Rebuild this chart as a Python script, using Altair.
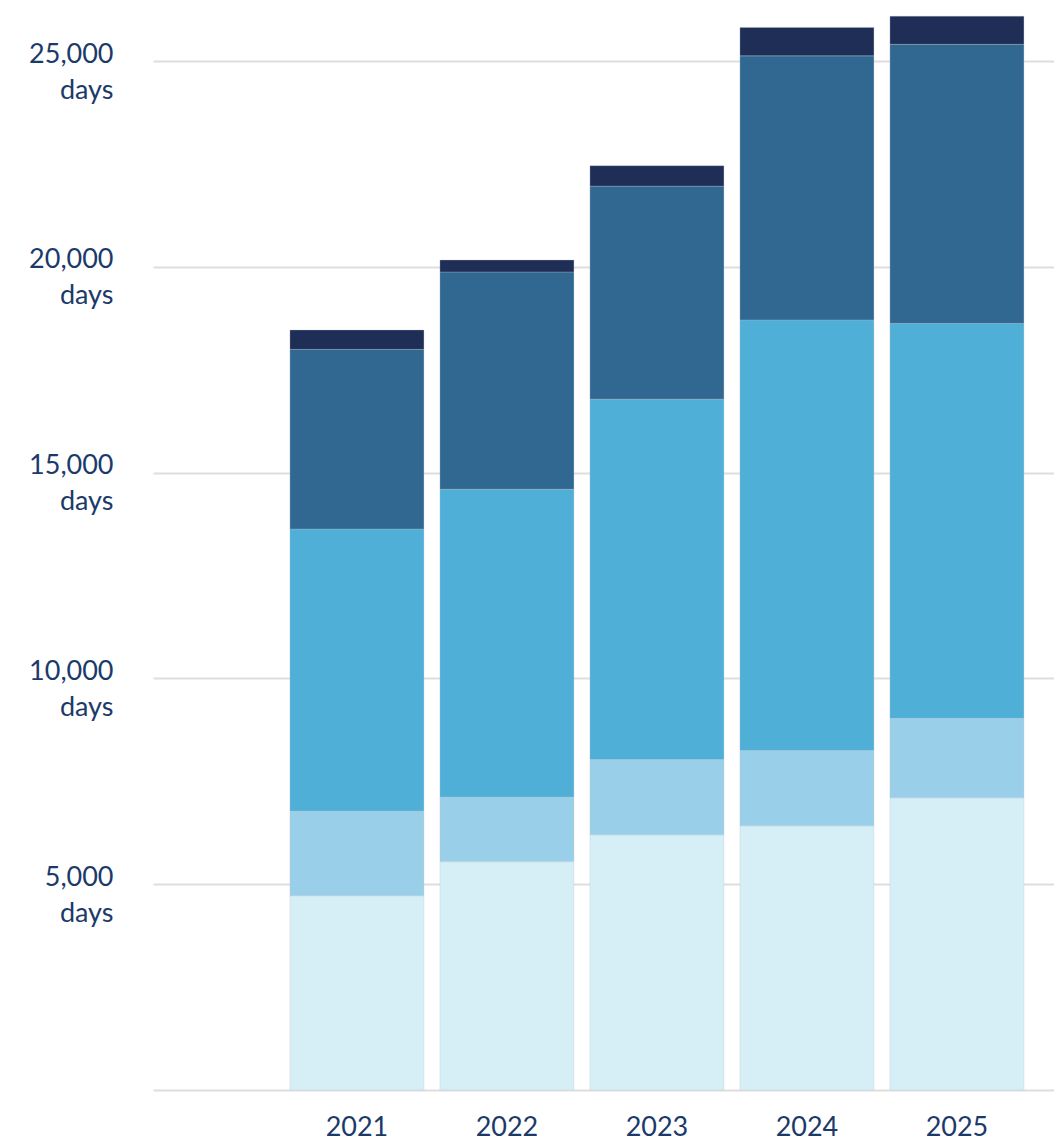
import altair as alt
import pandas as pd

years = ["2021", "2022", "2023", "2024", "2025"]
segments = ["Segment 1", "Segment 2", "Segment 3", "Segment 4", "Segment 5"]
seg1 = [4720, 5550, 6200, 6420, 7100]
seg2 = [2060, 1570, 1830, 1830, 1930]
seg3 = [6850, 7475, 8755, 10460, 9595]
seg4 = [4365, 5280, 5175, 6415, 6780]
seg5 = [470, 290, 495, 690, 685]
colors = ["#d6eef6", "#9acfea", "#4fafd6", "#316892", "#1f2e57"]
y_ticks = [0, 5000, 10000, 15000, 20000, 25000]

rows = []
for i, y in enumerate(years):
    for k, vals in enumerate([seg1, seg2, seg3, seg4, seg5]):
        rows.append({"year": y, "segment": segments[k], "order": k, "value": vals[i]})
df = pd.DataFrame(rows)

FONT = "Lato"
TXT = "#1b3a6a"

chart = alt.Chart(df).mark_bar(stroke="#b8c4cc", strokeWidth=0.5, strokeOpacity=0.6).encode(
    x=alt.X("year:N", sort=years, title=None,
            scale=alt.Scale(paddingInner=0.1067, paddingOuter=0.5567, align=0.82),
            axis=alt.Axis(ticks=False, domain=False, labelAngle=0, labelFont=FONT,
                          labelFontSize=27, labelColor=TXT, labelPadding=24,
                          labelBaseline="top")),
    y=alt.Y("value:Q", stack="zero", title=None,
            scale=alt.Scale(domain=[0, 26288], nice=False, zero=True),
            axis=alt.Axis(values=y_ticks, ticks=False, domain=False,
                          grid=True, gridColor="#dedede", gridWidth=2,
                          labelExpr="datum.value == 0 ? '' : [format(datum.value, ','), 'days']",
                          labelFont=FONT, labelFontSize=27, labelColor=TXT,
                          labelPadding=40, labelLineHeight=36, labelBaseline="alphabetic",
                          labelOffset=1, labelAlign="right")),
    color=alt.Color("segment:N", sort=segments,
                    scale=alt.Scale(domain=segments, range=colors), legend=None),
    order=alt.Order("order:Q", sort="ascending"),
).properties(
    width=901,
    height=1082,
    autosize=alt.AutoSizeParams(type="none"),
    padding={"left": 145, "top": 0, "right": 0, "bottom": 56},
    background="white",
).configure_view(stroke="transparent", strokeWidth=0)

chart.save("out.html", embed_options={"renderer": "svg", "actions": False})
